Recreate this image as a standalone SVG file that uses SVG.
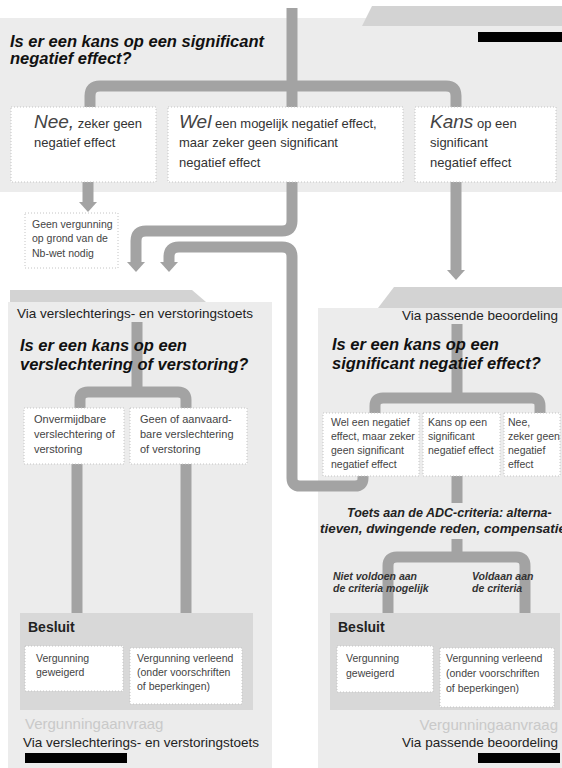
<svg xmlns="http://www.w3.org/2000/svg" width="562" height="768" viewBox="0 0 562 768">
<defs>
<marker id="ah" markerUnits="userSpaceOnUse" markerWidth="10" markerHeight="18" viewBox="0 0 10 18" refX="0" refY="9" orient="auto">
<path d="M0,0 L10,9 L0,18 z" fill="#a3a3a3"/>
</marker>
<style>
.bg{fill:#ececec}
.tab{fill:#d3d3d3}
.bes{fill:#d8d8d8}
.box{fill:#fff;stroke:#c4c4c4;stroke-width:1;stroke-dasharray:1 2}
.con{fill:none;stroke:#a3a3a3;stroke-width:11}
.bar{fill:#000}
text{font-family:"Liberation Sans",Arial,sans-serif;fill:#222}
.q{font-weight:bold;font-style:italic;font-size:16.5px;fill:#111}
.t1{font-size:13px;fill:#333}
.big{font-size:19px;font-style:italic;fill:#444}
.s{font-size:10.5px;fill:#444}
.m{font-size:11px;fill:#444}
.via{font-size:13.5px;fill:#222}
.adc{font-weight:bold;font-style:italic;font-size:12.5px;fill:#222}
.lab{font-weight:bold;font-style:italic;font-size:10.5px;fill:#333}
.bs{font-weight:bold;font-size:14px;fill:#222}
.fade{font-size:15px;fill:#c9c9c9}
.end{text-anchor:end}
</style>
</defs>

<!-- backgrounds -->
<rect class="bg" x="0" y="18" width="562" height="174"/>
<polygon class="tab" points="372,6 562,6 562,26 362,26"/>
<rect class="bar" x="478" y="32" width="84" height="10"/>
<rect class="bg" x="8" y="302" width="264" height="466"/>
<polygon class="tab" points="10,290 192,290 206,302 10,302"/>
<rect class="bg" x="318" y="308" width="244" height="460"/>
<polygon class="tab" points="394,287 562,287 562,308 378,308"/>
<rect class="bes" x="20" y="613" width="233" height="97"/>
<rect class="bes" x="330" y="613" width="230" height="97"/>

<g id="connectors">
<path class="con" d="M292 8 V107"/>
<path class="con" d="M90 107 V96 Q90 86 100 86 H446 Q456 86 456 96 V107"/>
<path class="con" d="M88 182 V202" marker-end="url(#ah)"/>
<path class="con" d="M456 182 V270" marker-end="url(#ah)"/>
<path class="con" d="M292 182 V221 Q292 231 282 231 H146 Q136 231 136 241 V262" marker-end="url(#ah)"/>
<path class="con" d="M363 476 V478 Q363 486 355 486 H300 Q292 486 292 478 V257 Q292 247 282 247 H179 Q169 247 169 257 V262" marker-end="url(#ah)"/>
<path class="con" d="M137 322 V392"/>
<path class="con" d="M80 408 V400 Q80 392 88 392 H178 Q186 392 186 400 V408"/>
<path class="con" d="M77 464 V613"/>
<path class="con" d="M186 464 V613"/>
<path class="con" d="M457 324 V398"/>
<path class="con" d="M375 413 V406 Q375 398 383 398 H532 Q540 398 540 406 V413"/>
<path class="con" d="M457 476 V503"/>
<path class="con" d="M457 539 V557"/>
<path class="con" d="M388 613 V566 Q388 557 397 557 H516 Q525 557 525 566 V613"/>
</g>

<g id="q-top">
<text class="q" x="10" y="47">Is er een kans op een significant</text>
<text class="q" x="10" y="64">negatief effect?</text>
</g>

<g id="nee">
<rect class="box" x="11" y="107" width="145" height="75"/>
<text class="t1" x="34" y="128"><tspan class="big">Nee,</tspan> zeker geen</text>
<text class="t1" x="34" y="147">negatief effect</text>
</g>

<g id="wel">
<rect class="box" x="168" y="107" width="235" height="75"/>
<text class="t1" x="179" y="128"><tspan class="big">Wel</tspan> een mogelijk negatief effect,</text>
<text class="t1" x="179" y="147">maar zeker geen significant</text>
<text class="t1" x="179" y="167">negatief effect</text>
</g>

<g id="kans">
<rect class="box" x="415" y="107" width="141" height="75"/>
<text class="t1" x="430" y="128"><tspan class="big">Kans</tspan> op een</text>
<text class="t1" x="430" y="147">significant</text>
<text class="t1" x="430" y="167">negatief effect</text>
</g>

<g id="geen-vergunning">
<rect class="box" x="25" y="213" width="93" height="55"/>
<text class="s" x="32" y="228">Geen vergunning</text>
<text class="s" x="32" y="242">op grond van de</text>
<text class="s" x="32" y="257">Nb-wet nodig</text>
</g>

<g id="left-panel">
<text class="via" x="17" y="318">Via verslechterings- en verstoringstoets</text>
<text class="q" x="20" y="351">Is er een kans op een</text>
<text class="q" x="20" y="370">verslechtering of verstoring?</text>
</g>

<g id="onvermijdbaar">
<rect class="box" x="24" y="408" width="100" height="56"/>
<text class="m" x="34" y="423">Onvermijdbare</text>
<text class="m" x="34" y="438">verslechtering of</text>
<text class="m" x="34" y="453">verstoring</text>
</g>

<g id="aanvaardbaar">
<rect class="box" x="130" y="408" width="117" height="56"/>
<text class="m" x="140" y="423">Geen of aanvaard-</text>
<text class="m" x="140" y="438">bare verslechtering</text>
<text class="m" x="140" y="453">of verstoring</text>
</g>

<g id="besluit-left">
<text class="bs" x="28" y="632">Besluit</text>
<rect class="box" x="25" y="646" width="98" height="45"/>
<text class="s" x="36" y="662">Vergunning</text>
<text class="s" x="36" y="676">geweigerd</text>
<rect class="box" x="130" y="648" width="112" height="56"/>
<text class="s" x="137" y="662">Vergunning verleend</text>
<text class="s" x="137" y="676">(onder voorschriften</text>
<text class="s" x="137" y="690">of beperkingen)</text>
</g>

<g id="footer-left">
<text class="fade" x="25" y="729">Vergunningaanvraag</text>
<text class="via" x="23" y="747">Via verslechterings- en verstoringstoets</text>
<rect class="bar" x="25" y="753" width="102" height="10"/>
</g>

<g id="right-panel">
<text class="via end" x="558" y="320">Via passende beoordeling</text>
<text class="q" x="332" y="350">Is er een kans op een</text>
<text class="q" x="332" y="369">significant negatief effect?</text>
</g>

<g id="r-wel">
<rect class="box" x="323" y="413" width="96" height="63"/>
<text class="s" x="331" y="426">Wel een negatief</text>
<text class="s" x="331" y="440">effect, maar zeker</text>
<text class="s" x="331" y="454">geen significant</text>
<text class="s" x="331" y="468">negatief effect</text>
</g>

<g id="r-kans">
<rect class="box" x="423" y="413" width="77" height="63"/>
<text class="s" x="428" y="426">Kans op een</text>
<text class="s" x="428" y="440">significant</text>
<text class="s" x="428" y="454">negatief effect</text>
</g>

<g id="r-nee">
<rect class="box" x="504" y="413" width="56" height="63"/>
<text class="s" x="508" y="426">Nee,</text>
<text class="s" x="508" y="440">zeker geen</text>
<text class="s" x="508" y="454">negatief</text>
<text class="s" x="508" y="468">effect</text>
</g>

<g id="adc">
<text class="adc" x="347" y="517">Toets aan de ADC-criteria: alterna-</text>
<text class="adc" x="320" y="533" textLength="246" lengthAdjust="spacingAndGlyphs">tieven, dwingende reden, compensatie</text>
<text class="lab" x="333" y="580">Niet voldoen aan</text>
<text class="lab" x="333" y="592">de criteria mogelijk</text>
<text class="lab" x="472" y="580">Voldaan aan</text>
<text class="lab" x="472" y="592">de criteria</text>
</g>

<g id="besluit-right">
<text class="bs" x="338" y="632">Besluit</text>
<rect class="box" x="337" y="646" width="96" height="46"/>
<text class="s" x="346" y="662">Vergunning</text>
<text class="s" x="346" y="677">geweigerd</text>
<rect class="box" x="440" y="648" width="114" height="59"/>
<text class="s" x="446" y="662">Vergunning verleend</text>
<text class="s" x="446" y="677">(onder voorschriften</text>
<text class="s" x="446" y="692">of beperkingen)</text>
</g>

<g id="footer-right">
<text class="fade end" x="558" y="730">Vergunningaanvraag</text>
<text class="via end" x="558" y="747">Via passende beoordeling</text>
<rect class="bar" x="478" y="753" width="82" height="10"/>
</g>
</svg>
